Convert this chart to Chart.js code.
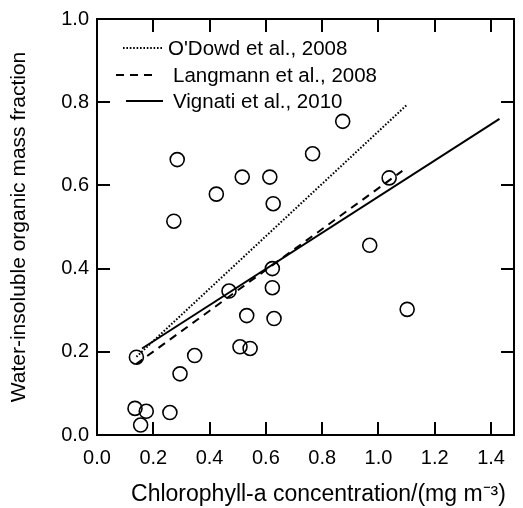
<!DOCTYPE html>
<html>
<head>
<meta charset="utf-8">
<script src="https://cdn.jsdelivr.net/npm/chart.js@4"></script>
<style>
  html, body { margin: 0; padding: 0; background: #fff; }
  #wrap { width: 523px; height: 508px; position: relative; }
</style>
</head>
<body>
<div id="wrap"><canvas id="c" width="523" height="508"></canvas></div>
<script>
// Observed points (chlorophyll-a, water-insoluble organic mass fraction)
const chlX = [0.140, 0.135, 0.175, 0.155, 0.259, 0.295, 0.347, 0.469, 0.508, 0.544,
              0.532, 0.623, 0.623, 0.629, 0.285, 0.273, 0.424, 0.516, 0.614, 0.626,
              0.766, 0.873, 1.038, 0.969, 1.102];
const womY = [0.187, 0.064, 0.057, 0.024, 0.054, 0.147, 0.191, 0.346, 0.212, 0.208,
              0.287, 0.400, 0.354, 0.280, 0.662, 0.514, 0.579, 0.620, 0.620, 0.556,
              0.676, 0.754, 0.618, 0.456, 0.302];
// Parameterisation lines (end points)
const odowdX = [0.14, 1.10];
const odowdY = [0.188, 0.793];
const langX = [0.138, 1.085];
const langY = [0.170, 0.635];
const vigX = [0.16, 1.43];
const vigY = [0.208, 0.760];
const lineLabels = ["O'Dowd et al., 2008", "Langmann et al., 2008", "Vignati et al., 2010"];
const xTicks = [0, 0.2, 0.4, 0.6, 0.8, 1.0, 1.2, 1.4];
const yTicks = [0, 0.2, 0.4, 0.6, 0.8, 1.0];

const FONT = "'Liberation Sans', Arial, Helvetica, sans-serif";
const pts = (xs, ys) => xs.map((x, i) => ({x: x, y: ys[i]}));

const frame = {
  id: 'frame',
  afterDraw(chart) {
    const ctx = chart.ctx;
    const a = chart.chartArea;
    const sx = chart.scales.x, sy = chart.scales.y;
    ctx.save();
    ctx.setLineDash([]);
    ctx.fillStyle = '#000';
    const W = 2, L = 13;
    const l = Math.round(a.left), r = Math.round(a.right), t = Math.round(a.top), b = Math.round(a.bottom);
    // frame
    ctx.fillRect(l - 1, t - 1, r - l + 2, W);
    ctx.fillRect(l - 1, b - 1, r - l + 2, W);
    ctx.fillRect(l - 1, t - 1, W, b - t + 2);
    ctx.fillRect(r - 1, t - 1, W, b - t + 2);
    // inward ticks on all four sides
    for (const v of xTicks) {
      const px = Math.round(sx.getPixelForValue(v));
      ctx.fillRect(px - 1, b - L, W, L);
      ctx.fillRect(px - 1, t, W, L);
    }
    for (const v of yTicks) {
      const py = Math.round(sy.getPixelForValue(v));
      ctx.fillRect(l, py - 1, L, W);
      ctx.fillRect(r - L, py - 1, L, W);
    }
    // legend
    const rows = [48, 75, 101];
    const segs = [[123, 163], [116, 152], [126, 163]];
    const textX = [168, 173, 173];
    ctx.strokeStyle = '#000';
    chart.data.datasets.slice(0, 3).forEach((ds, i) => {
      ctx.beginPath();
      ctx.lineWidth = ds.borderWidth;
      ctx.setLineDash(ds.borderDash || []);
      ctx.moveTo(segs[i][0], rows[i]);
      ctx.lineTo(segs[i][1], rows[i]);
      ctx.stroke();
      ctx.setLineDash([]);
      ctx.font = "20.5px " + FONT;
      ctx.textBaseline = 'middle';
      ctx.textAlign = 'left';
      ctx.fillText(ds.label, textX[i], rows[i] + 1);
    });
    ctx.restore();
  }
};

new Chart(document.getElementById('c'), {
  type: 'scatter',
  data: {
    datasets: [
      { label: lineLabels[0], data: pts(odowdX, odowdY), showLine: true, pointRadius: 0,
        borderColor: '#000', borderWidth: 2, borderDash: [1.6, 1.8] },
      { label: lineLabels[1], data: pts(langX, langY), showLine: true, pointRadius: 0,
        borderColor: '#000', borderWidth: 2, borderDash: [8, 6] },
      { label: lineLabels[2], data: pts(vigX, vigY), showLine: true, pointRadius: 0,
        borderColor: '#000', borderWidth: 2 },
      { label: 'Observations', data: pts(chlX, womY), showLine: false,
        pointRadius: 7, pointBorderWidth: 1.6, borderColor: '#000',
        backgroundColor: 'rgba(0,0,0,0)', pointBackgroundColor: 'rgba(0,0,0,0)' }
    ]
  },
  options: {
    responsive: false,
    animation: false,
    devicePixelRatio: 1,
    layout: { padding: { top: 19, right: 1, left: 0, bottom: 0 } },
    plugins: { legend: { display: false }, tooltip: { enabled: false } },
    scales: {
      x: {
        type: 'linear', min: 0, max: 1.483,
        grid: { display: false, drawTicks: false },
        border: { display: false },
        ticks: { stepSize: 0.2, includeBounds: false, padding: 11, color: '#000',
                 font: { family: FONT, size: 20 }, maxRotation: 0,
                 callback: v => Number(v).toFixed(1) },
        title: { display: true, text: '    Chlorophyll-a concentration/(mg m\u207B\u00B3)', color: '#000',
                 font: { family: FONT, size: 23 }, padding: { top: 0, bottom: 0 } },
        afterFit: s => { s.height = 73; s.paddingLeft = 0; s.paddingRight = 0; }
      },
      y: {
        type: 'linear', min: 0, max: 1.0,
        grid: { display: false, drawTicks: false },
        border: { display: false },
        ticks: { stepSize: 0.2, includeBounds: false, padding: 8, color: '#000',
                 font: { family: FONT, size: 20 },
                 callback: v => Number(v).toFixed(1) },
        title: { display: true, text: 'Water-insoluble organic mass fraction', color: '#000',
                 font: { family: FONT, size: 21 }, padding: { top: 7, bottom: 0 } },
        afterFit: s => { s.width = 97; s.paddingTop = 0; s.paddingBottom = 0; }
      }
    }
  },
  plugins: [frame]
});
</script>
</body>
</html>
